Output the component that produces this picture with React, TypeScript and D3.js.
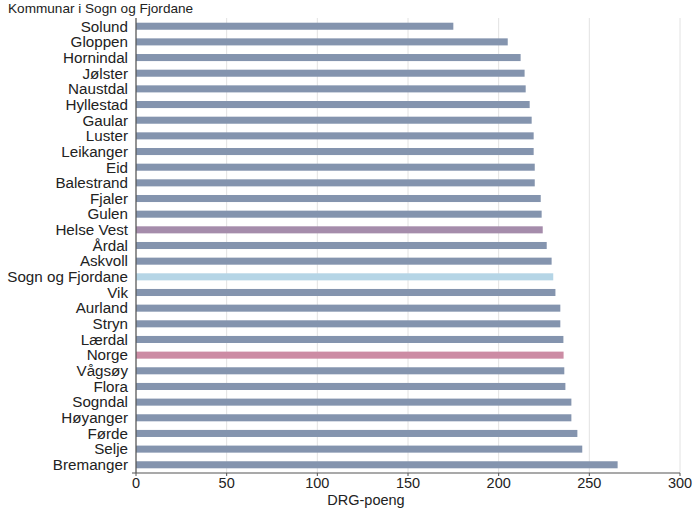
import React from "react";
import * as d3 from "d3";

const categories = [
  "Solund", "Gloppen", "Hornindal", "Jølster", "Naustdal", "Hyllestad", "Gaular",
  "Luster", "Leikanger", "Eid", "Balestrand", "Fjaler", "Gulen", "Helse Vest",
  "Årdal", "Askvoll", "Sogn og Fjordane", "Vik", "Aurland", "Stryn", "Lærdal",
  "Norge", "Vågsøy", "Flora", "Sogndal", "Høyanger", "Førde", "Selje", "Bremanger",
];
const values = [
  175.0, 205.0, 212.1, 214.3, 214.9, 217.1, 218.2,
  219.3, 219.3, 219.9, 219.9, 223.2, 223.7, 224.3,
  226.5, 229.2, 230.1, 231.3, 234.0, 234.0, 235.7,
  235.8, 236.2, 236.8, 240.1, 240.1, 243.4, 246.1, 265.6,
];
const xTicks = [0, 50, 100, 150, 200, 250, 300];
const highlight: Record<string, string> = {
  "Helse Vest": "#a58cab",
  "Sogn og Fjordane": "#b5d5e6",
  "Norge": "#cc8ca4",
};
const baseColor = "#8494ae";

const W = 700, H = 509;
const margin = { left: 136, right: 20, top: 18, bottom: 36 };
const FONT = "'Liberation Sans', Arial, Helvetica, sans-serif";

export default function App() {
  const x = d3.scaleLinear().domain([0, 300]).range([margin.left, 680]);
  const y = d3
    .scaleBand<string>()
    .domain(categories)
    .range([margin.top, H - margin.bottom])
    .paddingInner(0.55)
    .paddingOuter(0.3);
  const axisY = H - margin.bottom;
  return (
    <svg
      width={W}
      height={H}
      style={{ position: "absolute", left: 0, top: 0, background: "#fff" }}
      fontFamily={FONT}
    >
      {xTicks.map((t) => (
        <line key={"g" + t} x1={x(t)} x2={x(t)} y1={margin.top} y2={axisY} stroke="#e2e2e2" strokeWidth={1} />
      ))}
      {categories.map((c, i) => (
        <rect
          key={c}
          x={x(0)}
          y={y(c)!}
          width={x(values[i]) - x(0)}
          height={y.bandwidth()}
          fill={highlight[c] || baseColor}
        />
      ))}
      {categories.map((c) => (
        <text
          key={"l" + c}
          x={margin.left - 8}
          y={y(c)! + y.bandwidth() / 2}
          dy="0.35em"
          textAnchor="end"
          fontSize={15.2}
          fill="#222"
        >
          {c}
        </text>
      ))}
      <line x1={x(0)} x2={x(0)} y1={margin.top} y2={axisY} stroke="#555" strokeWidth={1.2} />
      <line x1={x(0) - 4} x2={x(300)} y1={axisY} y2={axisY} stroke="#555" strokeWidth={1.2} />
      {xTicks.map((t) => (
        <g key={"t" + t}>
          <line x1={x(t)} x2={x(t)} y1={axisY} y2={axisY + 3} stroke="#555" strokeWidth={1} />
          <text x={x(t)} y={axisY + 5} dy="0.71em" textAnchor="middle" fontSize={14.5} fill="#222">
            {t}
          </text>
        </g>
      ))}
      <text x={366} y={H - 4} textAnchor="middle" fontSize={14.5} fill="#222">
        DRG-poeng
      </text>
      <text x={8} y={13} fontSize={13.6} fill="#222">
        Kommunar i Sogn og Fjordane
      </text>
    </svg>
  );
}
